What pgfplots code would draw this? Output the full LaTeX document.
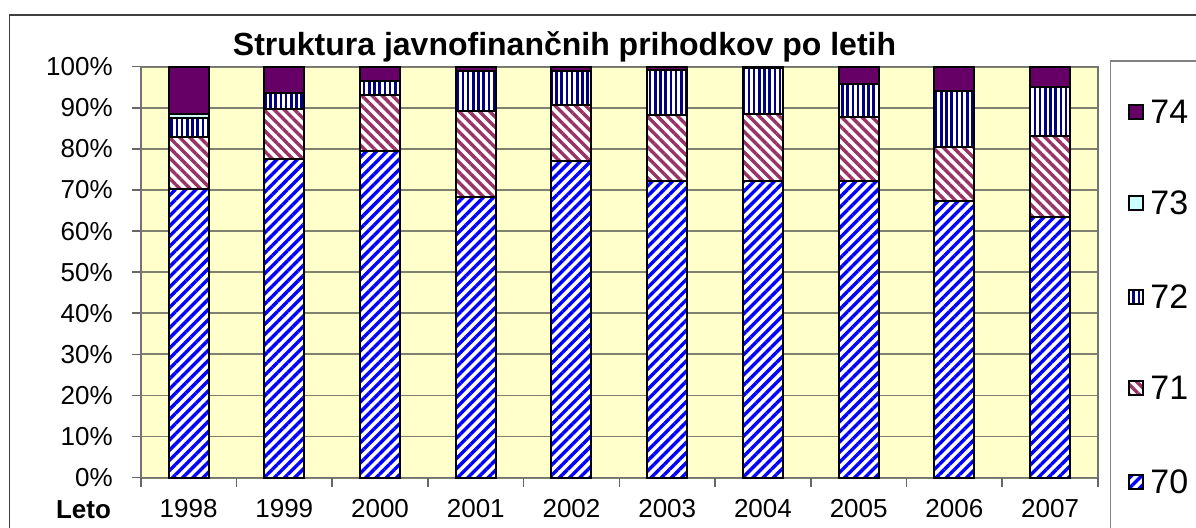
\documentclass[border=0pt]{standalone}
\usepackage{pgfplots}
\pgfplotsset{compat=1.18}
\usepackage{fontspec}
\setmainfont{Liberation Sans}
\usetikzlibrary{patterns.meta}
\definecolor{c70}{RGB}{0,0,255}
\definecolor{c71}{RGB}{153,51,102}
\definecolor{c72}{RGB}{0,0,128}
\definecolor{c73}{RGB}{204,255,255}
\definecolor{c74}{RGB}{102,0,102}
\definecolor{bgy}{RGB}{255,255,204}
\definecolor{gridc}{RGB}{128,128,112}
\tikzset{
  s70/.style={preaction={fill=white}, pattern={Lines[angle=45,distance=3.6pt,line width=1.7pt]}, pattern color=c70, draw=black, line width=1pt},
  s71/.style={preaction={fill=white}, pattern={Lines[angle=-45,distance=3.6pt,line width=1.7pt]}, pattern color=c71, draw=black, line width=1pt},
  s72/.style={preaction={fill=white}, pattern={Lines[angle=90,distance=2.6pt,line width=1.3pt]}, pattern color=c72, draw=black, line width=1pt},
  s73/.style={fill=c73, draw=black, line width=1pt},
  s74/.style={fill=c74, draw=black, line width=1pt},
}
\pgfplotstableread{
x  a70  a71  a72  a73  a74
0  70.3 12.5 4.8  0.8  11.6
1  77.5 12.2 3.8  0.0  6.5
2  79.5 13.6 3.4  0.0  3.5
3  68.4 20.7 9.9  0.0  1.0
4  77.1 13.6 8.3  0.0  1.0
5  72.2 16.0 11.0 0.0  0.8
6  72.2 16.4 11.0 0.0  0.4
7  72.2 15.5 8.2  0.0  4.1
8  67.3 13.2 13.6 0.0  5.9
9  63.5 19.7 11.9 0.0  4.9
}\datatable
\begin{document}
\begin{tikzpicture}
\useasboundingbox (0,0) rectangle (598pt,-264pt);
\clip (0,0) rectangle (598pt,-264pt);
\draw[line width=0.8pt, black!75] (4.7pt,-7.5pt) rectangle (700pt,-400pt);
\node[anchor=base, font=\fontsize{16}{19}\selectfont\bfseries] at (282.25pt,-28pt) {Struktura javnofinančnih prihodkov po letih};
\begin{axis}[
  at={(70.35pt,-238.85pt)}, anchor=south west,
  scale only axis, width=478.65pt, height=205.5pt,
  ybar stacked, bar width=20pt,
  xmin=-0.5, xmax=9.5, ymin=0, ymax=100,
  axis background/.style={fill=bgy},
  xtick={0,1,2,3,4,5,6,7,8,9},
  xticklabels={1998,1999,2000,2001,2002,2003,2004,2005,2006,2007},
  minor xtick={-0.5,0.5,1.5,2.5,3.5,4.5,5.5,6.5,7.5,8.5,9.5},
  minor tick length=4.5pt,
  xticklabel style={anchor=base, yshift=-15.5pt},
  ytick={0,10,...,100},
  yticklabel={\pgfmathprintnumber{\tick}\%},
  /pgf/number format/assume math mode=true,
  yticklabel style={xshift=-6pt},
  tick pos=left, tick align=outside, major tick length=4.5pt,
  tick style={black!60, line width=0.8pt},
  major x tick style={draw=none},
  ymajorgrids, grid style={gridc, line width=0.9pt},
  axis line style={black!55, line width=0.8pt},
  tick label style={font=\fontsize{13}{15}\selectfont},
  clip=false,
]
\addplot[s70] table[x=x,y=a70]{\datatable};
\addplot[s71] table[x=x,y=a71]{\datatable};
\addplot[s72] table[x=x,y=a72]{\datatable};
\addplot[s73] table[x=x,y=a73]{\datatable};
\addplot[s74] table[x=x,y=a74]{\datatable};
\end{axis}
\node[anchor=base east, font=\fontsize{13}{15}\selectfont\bfseries] at (59pt,-259.5pt) {Leto};
% legend
\draw[black!50, line width=0.6pt, fill=white] (555.35pt,-30.5pt) rectangle (700pt,-400pt);
\draw[s74] (564.5pt,-59.35pt) rectangle ++(7pt,7pt);
\draw[s73] (564.5pt,-105pt) rectangle ++(7pt,7pt);
\draw[s72] (564.5pt,-151.85pt) rectangle ++(7pt,7pt);
\draw[s71] (564.5pt,-197.5pt) rectangle ++(7pt,7pt);
\draw[s70] (564.5pt,-244.35pt) rectangle ++(7pt,7pt);
\begin{scope}[every node/.style={anchor=west, inner sep=0pt, font=\fontsize{17}{20}\selectfont}]
\node at (575pt,-55.85pt) {74};
\node at (575pt,-101.5pt) {73};
\node at (575pt,-148.35pt) {72};
\node at (575pt,-194pt) {71};
\node at (575pt,-240.85pt) {70};
\end{scope}
\end{tikzpicture}
\end{document}
